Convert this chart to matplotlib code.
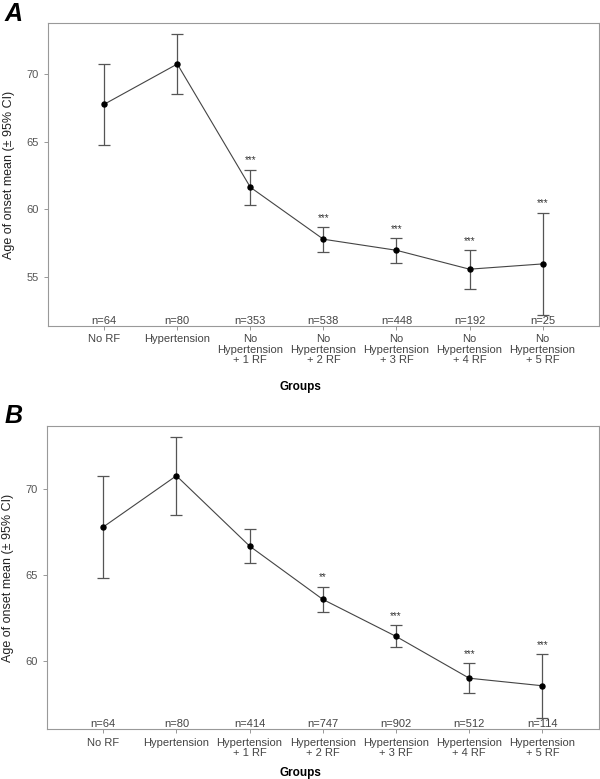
import matplotlib
matplotlib.use('Agg')
import matplotlib.pyplot as plt

plt.rcParams['font.family'] = ['Liberation Sans', 'DejaVu Sans']

# Panel A
labels_a = ['No RF', 'Hypertension', 'No\nHypertension\n+ 1 RF', 'No\nHypertension\n+ 2 RF',
            'No\nHypertension\n+ 3 RF', 'No\nHypertension\n+ 4 RF', 'No\nHypertension\n+ 5 RF']
mean_a = [67.78, 70.76, 61.63, 57.78, 56.96, 55.56, 55.95]
upper_a = [70.76, 72.98, 62.93, 58.69, 57.87, 56.99, 59.75]
lower_a = [64.79, 68.52, 60.32, 56.84, 56.02, 54.12, 52.17]
n_a = [64, 80, 353, 538, 448, 192, 25]
stars_a = ['', '', '***', '***', '***', '***', '***']

# Panel B
labels_b = ['No RF', 'Hypertension', 'Hypertension\n+ 1 RF', 'Hypertension\n+ 2 RF',
            'Hypertension\n+ 3 RF', 'Hypertension\n+ 4 RF', 'Hypertension\n+ 5 RF']
mean_b = [67.80, 70.79, 66.69, 63.58, 61.42, 58.98, 58.54]
upper_b = [70.79, 73.03, 67.68, 64.32, 62.06, 59.84, 60.39]
lower_b = [64.80, 68.53, 65.68, 62.82, 60.78, 58.13, 56.68]
n_b = [64, 80, 414, 747, 902, 512, 114]
stars_b = ['', '', '', '**', '***', '***', '***']

fig = plt.figure(figsize=(6, 7.79), dpi=100)
ax_a = fig.add_axes([0.08, 0.5815, 0.918, 0.389])
ax_b = fig.add_axes([0.078, 0.0638, 0.920, 0.3897])


def draw(ax, labels, mean, upper, lower, n, stars, ylim, ticks):
    x = list(range(len(labels)))
    yerr = [[m - l for m, l in zip(mean, lower)], [u - m for m, u in zip(mean, upper)]]
    ax.errorbar(x, mean, yerr=yerr, fmt='none', ecolor='#555555', elinewidth=0.9,
                capsize=4.5, capthick=0.9)
    ax.plot(x, mean, color='#444444', lw=0.8, marker='o', ms=3.6, mfc='black', mec='black')
    for i in x:
        if stars[i]:
            ax.annotate(stars[i], (i, upper[i]), xytext=(0, 3), textcoords='offset points',
                        ha='center', va='bottom', fontsize=7, color='#333333')
        ax.text(i, ylim[0], 'n=%d' % n[i], ha='center', va='bottom', fontsize=8, color='#444444')
    ax.set_xlim(-0.77, 6.77)
    ax.set_ylim(*ylim)
    ax.set_yticks(ticks)
    ax.set_xticks(x)
    ax.set_xticklabels(labels, fontsize=8, color='#444444', linespacing=1.05)
    ax.tick_params(axis='y', labelsize=8, labelcolor='#555555', color='#888888', length=3, width=0.6)
    ax.tick_params(axis='x', color='#888888', length=3, width=0.6, pad=3)
    for s in ax.spines.values():
        s.set_color('#999999')
        s.set_linewidth(0.8)
    ax.set_ylabel('Age of onset mean (± 95% CI)', fontsize=9, color='#222222', labelpad=8)


draw(ax_a, labels_a, mean_a, upper_a, lower_a, n_a, stars_a, (51.35, 73.8), [55, 60, 65, 70])
draw(ax_b, labels_b, mean_b, upper_b, lower_b, n_b, stars_b, (56.0, 73.71), [60, 65, 70])

fig.text(0.5, 1 - 387 / 779, 'Groups', ha='center', va='center', fontsize=8.5, fontweight='bold')
fig.text(0.5, 1 - 773 / 779, 'Groups', ha='center', va='center', fontsize=8.5, fontweight='bold')
fig.text(0.008, 1 - 14 / 779, 'A', ha='left', va='center', fontsize=18, fontweight='bold', style='italic')
fig.text(0.008, 1 - 416 / 779, 'B', ha='left', va='center', fontsize=18, fontweight='bold', style='italic')

fig.savefig('out.png', dpi=100)
